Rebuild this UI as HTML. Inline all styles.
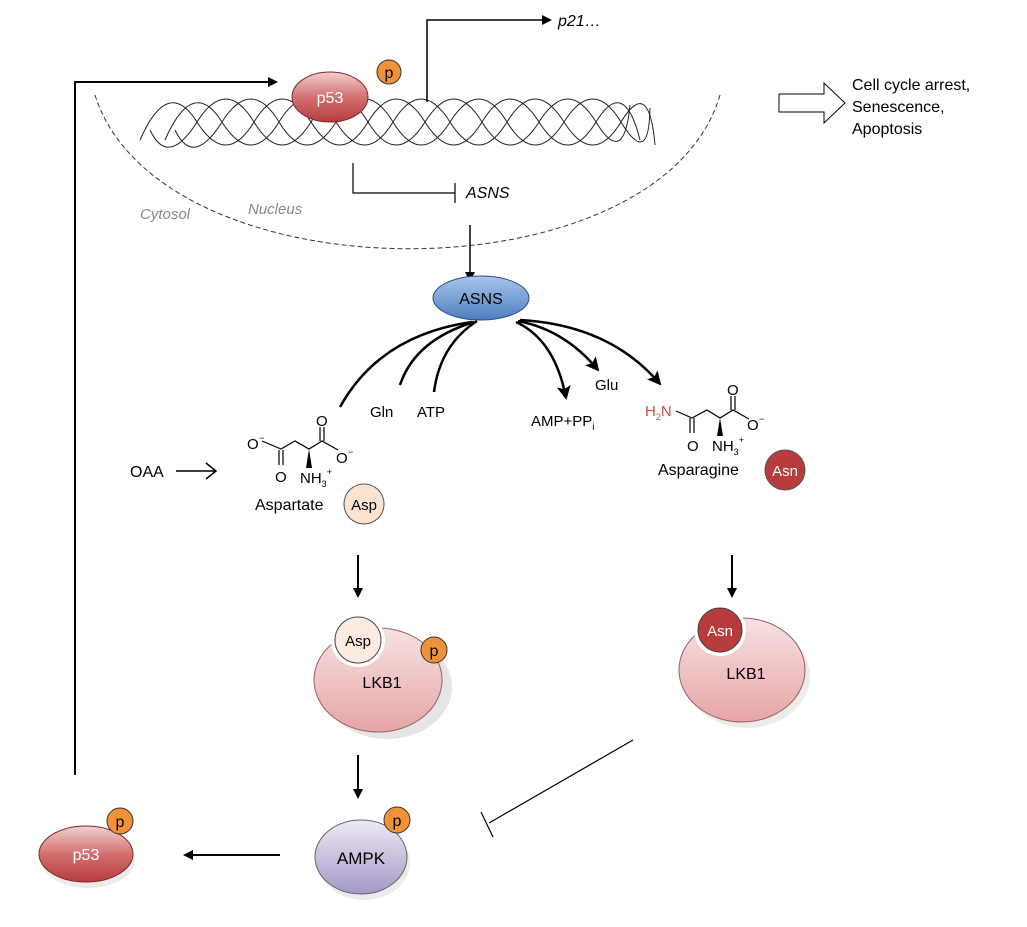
<!DOCTYPE html>
<html><head><meta charset="utf-8"><style>
html,body{margin:0;padding:0;background:#fff;}
svg{display:block;font-family:"Liberation Sans",Arial,sans-serif;}
</style></head><body>
<svg width="1027" height="927" viewBox="0 0 1027 927" xmlns="http://www.w3.org/2000/svg">
<defs>
<linearGradient id="red" x1="0" y1="0" x2="0" y2="1"><stop offset="0" stop-color="#f2d0d0"/><stop offset="0.5" stop-color="#d27070"/><stop offset="1" stop-color="#b83c3c"/></linearGradient>
<linearGradient id="blue" x1="0" y1="0" x2="0" y2="1"><stop offset="0" stop-color="#a9c6ea"/><stop offset="1" stop-color="#4a7fc1"/></linearGradient>
<linearGradient id="pink" x1="0" y1="0" x2="0" y2="1"><stop offset="0" stop-color="#f7e2e2"/><stop offset="1" stop-color="#e6a5a7"/></linearGradient>
<linearGradient id="purp" x1="0" y1="0" x2="0" y2="1"><stop offset="0" stop-color="#eeeaf4"/><stop offset="1" stop-color="#a597c7"/></linearGradient>
<marker id="ah" markerWidth="10" markerHeight="10" refX="8" refY="5" orient="auto" markerUnits="userSpaceOnUse"><path d="M0,0 L10,5 L0,10 Z" fill="#000"/></marker>
<marker id="ah2" markerWidth="14" markerHeight="14" refX="12" refY="7" orient="auto" markerUnits="userSpaceOnUse"><path d="M0,0 L14,7 L0,14 L3,7 Z" fill="#000"/></marker>
</defs>

<!-- nuclear membrane -->
<path d="M95,95 C160,300 660,300 720,95" fill="none" stroke="#333" stroke-width="1" stroke-dasharray="5,3"/>
<text x="140" y="219" font-size="15" font-style="italic" fill="#888">Cytosol</text>
<text x="248" y="214" font-size="15" font-style="italic" fill="#888">Nucleus</text>

<!-- DNA -->
<g fill="none" stroke="#222" stroke-width="1">
<path d="M140,140 Q168,76 197,122 T254,122 T311,122 T368,122 T425,122 T482,122 T539,122 T596,122 T640,140"/>
<path d="M150,130 Q168,168 197,122 T254,122 T311,122 T368,122 T425,122 T482,122 T539,122 T596,122 T630,105"/>
<path d="M165,140 Q193,76 222,122 T279,122 T336,122 T393,122 T450,122 T507,122 T564,122 T621,122 T655,145"/>
<path d="M175,130 Q193,168 222,122 T279,122 T336,122 T393,122 T450,122 T507,122 T564,122 T621,122 T650,108"/>
</g>

<!-- top p53 -->
<ellipse cx="330" cy="97" rx="38" ry="25" fill="url(#red)" stroke="#7a2a2a" stroke-width="1"/>
<text x="330" y="103" font-size="16" fill="#fff" text-anchor="middle">p53</text>
<circle cx="389" cy="72" r="12" fill="#f0923a" stroke="#333" stroke-width="1"/>
<text x="389" y="78" font-size="16" text-anchor="middle">p</text>

<!-- feedback arrow -->
<path d="M75,775 L75,82 L276,82" fill="none" stroke="#000" stroke-width="2" marker-end="url(#ah)"/>
<!-- p21 -->
<path d="M427,102 L427,20 L550,20" fill="none" stroke="#000" stroke-width="1.5" marker-end="url(#ah)"/>
<text x="558" y="26" font-size="16" font-style="italic">p21…</text>

<!-- ASNS inhibition -->
<path d="M353,163 L353,193 L455,193" fill="none" stroke="#000" stroke-width="1.2"/>
<line x1="455" y1="183" x2="455" y2="203" stroke="#000" stroke-width="1.2"/>
<text x="466" y="198" font-size="16" font-style="italic">ASNS</text>
<line x1="470" y1="225" x2="470" y2="280" stroke="#000" stroke-width="1.5" marker-end="url(#ah)"/>

<!-- cell cycle -->
<path d="M779,94 L824,94 L824,83 L845,103 L824,123 L824,112 L779,112 Z" fill="#fff" stroke="#000" stroke-width="1"/>
<text font-size="16"><tspan x="852" y="90">Cell cycle arrest,</tspan><tspan x="852" y="112">Senescence,</tspan><tspan x="852" y="134">Apoptosis</tspan></text>

<!-- ASNS enzyme -->
<ellipse cx="481" cy="298" rx="48" ry="22" fill="url(#blue)" stroke="#2a4f80" stroke-width="1"/>
<text x="481" y="304" font-size="16" text-anchor="middle">ASNS</text>

<g fill="none" stroke="#000" stroke-width="2.5">
<path d="M340,407 Q380,335 472,322"/>
<path d="M400,385 Q415,340 474,322"/>
<path d="M434,392 Q440,345 477,321"/>
<path d="M516,322 Q555,340 566,398" marker-end="url(#ah2)"/>
<path d="M518,321 Q565,330 598,370" marker-end="url(#ah2)"/>
<path d="M520,320 Q610,325 660,384" marker-end="url(#ah2)"/>
</g>
<text x="370" y="417" font-size="15">Gln</text>
<text x="417" y="417" font-size="15">ATP</text>
<text x="531" y="426" font-size="15">AMP+PP<tspan font-size="10" dy="4">i</tspan></text>
<text x="595" y="390" font-size="15">Glu</text>

<!-- OAA -->
<text x="130" y="477" font-size="16">OAA</text>
<path d="M176,471 L216,471 M206,463 L216,471 L206,479" fill="none" stroke="#000" stroke-width="1.5"/>

<!-- Aspartate -->
<g stroke="#000" stroke-width="1.2" fill="none">
<path d="M262,441 L281,449 L295,441 L309,449 L322,441 L338,450"/>
<path d="M279,450 L279,465 M283,450 L283,465"/>
<path d="M320,441 L320,427 M324,441 L324,427"/>
</g>
<path d="M309,449 L306,468 L312,468 Z" fill="#000"/>
<g font-size="15">
<text x="247" y="449">O</text><text x="259" y="441" font-size="9">−</text>
<text x="275" y="482">O</text>
<text x="316" y="426">O</text>
<text x="336" y="463">O</text><text x="348" y="455" font-size="9">−</text>
<text x="300" y="483">NH<tspan font-size="9" dy="4">3</tspan><tspan font-size="9" dy="-12">+</tspan></text>
<text x="255" y="510" font-size="16">Aspartate</text>
</g>
<circle cx="364" cy="504" r="20" fill="#fbe3d2" stroke="#555" stroke-width="1"/>
<text x="364" y="510" font-size="15" text-anchor="middle">Asp</text>

<!-- Asparagine -->
<g stroke="#000" stroke-width="1.2" fill="none">
<path d="M676,411 L692,418 L707,410 L720,418 L733,410 L749,419"/>
<path d="M690,418 L690,433 M694,418 L694,433"/>
<path d="M731,410 L731,396 M735,410 L735,396"/>
</g>
<path d="M720,418 L717,436 L723,436 Z" fill="#000"/>
<g font-size="15">
<text x="645" y="416" fill="#c0504d">H<tspan font-size="9" dy="4">2</tspan><tspan dy="-4">N</tspan></text>
<text x="687" y="451">O</text>
<text x="727" y="395">O</text>
<text x="747" y="430">O</text><text x="759" y="422" font-size="9">−</text>
<text x="712" y="451">NH<tspan font-size="9" dy="4">3</tspan><tspan font-size="9" dy="-12">+</tspan></text>
<text x="658" y="475" font-size="16">Asparagine</text>
</g>
<circle cx="785" cy="470" r="20" fill="#b83c3c" stroke="#555" stroke-width="1"/>
<text x="785" y="476" font-size="15" fill="#fff" text-anchor="middle">Asn</text>

<!-- arrows down -->
<line x1="358" y1="555" x2="358" y2="596" stroke="#000" stroke-width="2" marker-end="url(#ah)"/>
<line x1="732" y1="555" x2="732" y2="596" stroke="#000" stroke-width="2" marker-end="url(#ah)"/>

<!-- LKB1 left -->
<ellipse cx="383" cy="683" rx="65" ry="52" fill="#ccc" opacity="0.5" transform="translate(4,4)"/>
<ellipse cx="378" cy="680" rx="64" ry="52" fill="url(#pink)" stroke="#9a6060" stroke-width="1"/>
<circle cx="358" cy="640" r="27" fill="#fff"/>
<circle cx="358" cy="640" r="23" fill="#fcebe0" stroke="#444" stroke-width="1"/>
<text x="358" y="646" font-size="15" text-anchor="middle">Asp</text>
<circle cx="434" cy="650" r="13" fill="#f0923a" stroke="#333" stroke-width="1"/>
<text x="434" y="656" font-size="16" text-anchor="middle">p</text>
<text x="382" y="688" font-size="16" text-anchor="middle">LKB1</text>

<!-- LKB1 right -->
<ellipse cx="744" cy="673" rx="63" ry="52" fill="#ccc" opacity="0.4" transform="translate(3,3)"/>
<ellipse cx="742" cy="670" rx="63" ry="52" fill="url(#pink)" stroke="#9a6060" stroke-width="1"/>
<circle cx="720" cy="630" r="26" fill="#fff"/>
<circle cx="720" cy="630" r="22" fill="#b83c3c" stroke="#444" stroke-width="1"/>
<text x="720" y="636" font-size="15" fill="#fff" text-anchor="middle">Asn</text>
<text x="746" y="679" font-size="16" text-anchor="middle">LKB1</text>

<!-- arrow to AMPK -->
<line x1="358" y1="755" x2="358" y2="797" stroke="#000" stroke-width="2" marker-end="url(#ah)"/>

<!-- AMPK -->
<ellipse cx="362" cy="860" rx="46" ry="37" fill="#ccc" opacity="0.4" transform="translate(2,3)"/>
<ellipse cx="361" cy="857" rx="46" ry="37" fill="url(#purp)" stroke="#666" stroke-width="1"/>
<text x="361" y="864" font-size="17" text-anchor="middle">AMPK</text>
<circle cx="397" cy="820" r="13" fill="#f0923a" stroke="#333" stroke-width="1"/>
<text x="397" y="826" font-size="16" text-anchor="middle">p</text>

<!-- inhibition -->
<line x1="633" y1="740" x2="489" y2="823" stroke="#000" stroke-width="1.2"/>
<line x1="481" y1="812" x2="493" y2="837" stroke="#000" stroke-width="1.2"/>

<!-- arrow to p53 -->
<line x1="280" y1="855" x2="185" y2="855" stroke="#000" stroke-width="2" marker-end="url(#ah)"/>

<!-- bottom p53 -->
<ellipse cx="87" cy="857" rx="47" ry="28" fill="#ccc" opacity="0.4" transform="translate(1,3)"/>
<ellipse cx="86" cy="854" rx="47" ry="28" fill="url(#red)" stroke="#7a2a2a" stroke-width="1"/>
<text x="86" y="860" font-size="16" fill="#fff" text-anchor="middle">p53</text>
<circle cx="120" cy="821" r="13" fill="#f0923a" stroke="#333" stroke-width="1"/>
<text x="120" y="827" font-size="16" text-anchor="middle">p</text>
</svg>
</body></html>
